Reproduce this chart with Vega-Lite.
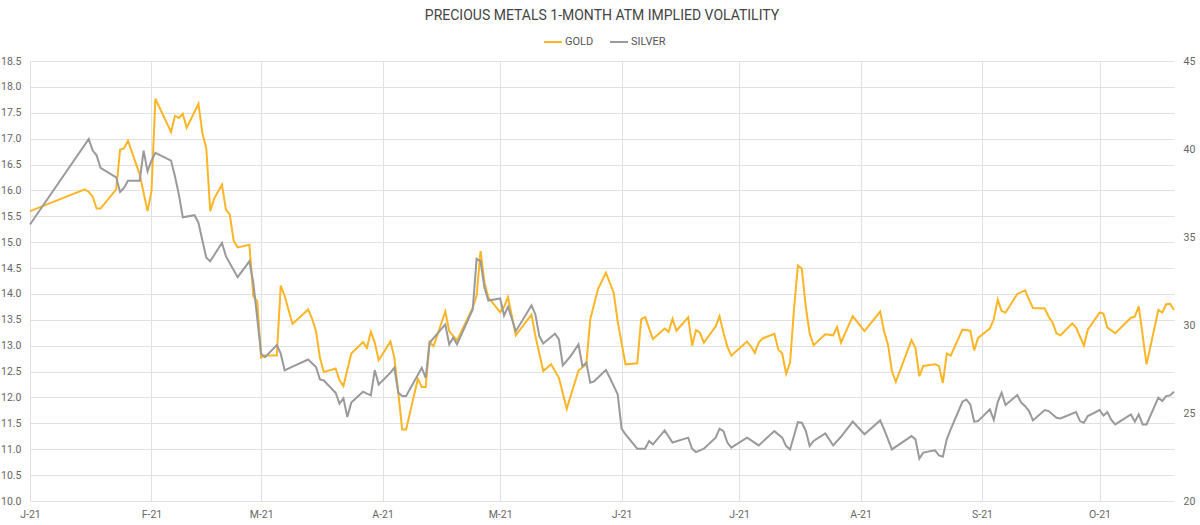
{
  "$schema": "https://vega.github.io/schema/vega-lite/v6.json",
  "autosize": {"type": "none"},
  "padding": {"left": 30, "top": 61, "right": 26, "bottom": 24},
  "width": 1144,
  "height": 440,
  "background": "#ffffff",
  "title": {
    "text": "PRECIOUS METALS 1-MONTH ATM IMPLIED VOLATILITY",
    "font": "Roboto",
    "fontSize": 14,
    "fontWeight": "normal",
    "color": "#444444",
    "anchor": "middle",
    "baseline": "alphabetic",
    "offset": 11,
    "dy": 13
  },
  "datasets": {
    "vols": [
      {"date": "2021-01-01", "metal": "GOLD", "vol": 15.60},
      {"date": "2021-01-15", "metal": "GOLD", "vol": 16.02},
      {"date": "2021-01-16", "metal": "GOLD", "vol": 15.97},
      {"date": "2021-01-17", "metal": "GOLD", "vol": 15.88},
      {"date": "2021-01-18", "metal": "GOLD", "vol": 15.65},
      {"date": "2021-01-19", "metal": "GOLD", "vol": 15.65},
      {"date": "2021-01-23", "metal": "GOLD", "vol": 16.02},
      {"date": "2021-01-24", "metal": "GOLD", "vol": 16.79},
      {"date": "2021-01-25", "metal": "GOLD", "vol": 16.81},
      {"date": "2021-01-26", "metal": "GOLD", "vol": 16.96},
      {"date": "2021-01-29", "metal": "GOLD", "vol": 16.31},
      {"date": "2021-01-31", "metal": "GOLD", "vol": 15.60},
      {"date": "2021-02-01", "metal": "GOLD", "vol": 15.98},
      {"date": "2021-02-02", "metal": "GOLD", "vol": 17.77},
      {"date": "2021-02-06", "metal": "GOLD", "vol": 17.13},
      {"date": "2021-02-07", "metal": "GOLD", "vol": 17.44},
      {"date": "2021-02-08", "metal": "GOLD", "vol": 17.40},
      {"date": "2021-02-09", "metal": "GOLD", "vol": 17.48},
      {"date": "2021-02-10", "metal": "GOLD", "vol": 17.21},
      {"date": "2021-02-13", "metal": "GOLD", "vol": 17.67},
      {"date": "2021-02-14", "metal": "GOLD", "vol": 17.11},
      {"date": "2021-02-15", "metal": "GOLD", "vol": 16.81},
      {"date": "2021-02-16", "metal": "GOLD", "vol": 15.60},
      {"date": "2021-02-17", "metal": "GOLD", "vol": 15.84},
      {"date": "2021-02-19", "metal": "GOLD", "vol": 16.11},
      {"date": "2021-02-20", "metal": "GOLD", "vol": 15.63},
      {"date": "2021-02-21", "metal": "GOLD", "vol": 15.53},
      {"date": "2021-02-22", "metal": "GOLD", "vol": 15.02},
      {"date": "2021-02-23", "metal": "GOLD", "vol": 14.90},
      {"date": "2021-02-26", "metal": "GOLD", "vol": 14.95},
      {"date": "2021-02-27", "metal": "GOLD", "vol": 13.96},
      {"date": "2021-02-28", "metal": "GOLD", "vol": 13.86},
      {"date": "2021-03-01", "metal": "GOLD", "vol": 12.77},
      {"date": "2021-03-02", "metal": "GOLD", "vol": 12.81},
      {"date": "2021-03-05", "metal": "GOLD", "vol": 12.81},
      {"date": "2021-03-06", "metal": "GOLD", "vol": 14.16},
      {"date": "2021-03-07", "metal": "GOLD", "vol": 13.96},
      {"date": "2021-03-09", "metal": "GOLD", "vol": 13.42},
      {"date": "2021-03-13", "metal": "GOLD", "vol": 13.70},
      {"date": "2021-03-14", "metal": "GOLD", "vol": 13.52},
      {"date": "2021-03-15", "metal": "GOLD", "vol": 13.28},
      {"date": "2021-03-16", "metal": "GOLD", "vol": 12.77},
      {"date": "2021-03-17", "metal": "GOLD", "vol": 12.49},
      {"date": "2021-03-20", "metal": "GOLD", "vol": 12.56},
      {"date": "2021-03-21", "metal": "GOLD", "vol": 12.33},
      {"date": "2021-03-22", "metal": "GOLD", "vol": 12.22},
      {"date": "2021-03-24", "metal": "GOLD", "vol": 12.85},
      {"date": "2021-03-27", "metal": "GOLD", "vol": 13.07},
      {"date": "2021-03-28", "metal": "GOLD", "vol": 12.96},
      {"date": "2021-03-29", "metal": "GOLD", "vol": 13.27},
      {"date": "2021-03-30", "metal": "GOLD", "vol": 13.06},
      {"date": "2021-03-31", "metal": "GOLD", "vol": 12.72},
      {"date": "2021-04-03", "metal": "GOLD", "vol": 13.08},
      {"date": "2021-04-04", "metal": "GOLD", "vol": 12.77},
      {"date": "2021-04-05", "metal": "GOLD", "vol": 12.10},
      {"date": "2021-04-06", "metal": "GOLD", "vol": 11.38},
      {"date": "2021-04-07", "metal": "GOLD", "vol": 11.38},
      {"date": "2021-04-10", "metal": "GOLD", "vol": 12.36},
      {"date": "2021-04-11", "metal": "GOLD", "vol": 12.20},
      {"date": "2021-04-12", "metal": "GOLD", "vol": 12.20},
      {"date": "2021-04-13", "metal": "GOLD", "vol": 13.07},
      {"date": "2021-04-14", "metal": "GOLD", "vol": 12.99},
      {"date": "2021-04-17", "metal": "GOLD", "vol": 13.66},
      {"date": "2021-04-18", "metal": "GOLD", "vol": 13.28},
      {"date": "2021-04-20", "metal": "GOLD", "vol": 13.10},
      {"date": "2021-04-24", "metal": "GOLD", "vol": 13.73},
      {"date": "2021-04-25", "metal": "GOLD", "vol": 13.97},
      {"date": "2021-04-26", "metal": "GOLD", "vol": 14.83},
      {"date": "2021-04-27", "metal": "GOLD", "vol": 14.22},
      {"date": "2021-04-28", "metal": "GOLD", "vol": 13.93},
      {"date": "2021-05-01", "metal": "GOLD", "vol": 13.65},
      {"date": "2021-05-02", "metal": "GOLD", "vol": 13.75},
      {"date": "2021-05-03", "metal": "GOLD", "vol": 13.94},
      {"date": "2021-05-05", "metal": "GOLD", "vol": 13.20},
      {"date": "2021-05-09", "metal": "GOLD", "vol": 13.60},
      {"date": "2021-05-10", "metal": "GOLD", "vol": 13.19},
      {"date": "2021-05-12", "metal": "GOLD", "vol": 12.51},
      {"date": "2021-05-14", "metal": "GOLD", "vol": 12.64},
      {"date": "2021-05-16", "metal": "GOLD", "vol": 12.38},
      {"date": "2021-05-18", "metal": "GOLD", "vol": 11.78},
      {"date": "2021-05-21", "metal": "GOLD", "vol": 12.52},
      {"date": "2021-05-23", "metal": "GOLD", "vol": 12.64},
      {"date": "2021-05-24", "metal": "GOLD", "vol": 13.51},
      {"date": "2021-05-26", "metal": "GOLD", "vol": 14.10},
      {"date": "2021-05-28", "metal": "GOLD", "vol": 14.41},
      {"date": "2021-05-30", "metal": "GOLD", "vol": 14.02},
      {"date": "2021-05-31", "metal": "GOLD", "vol": 13.47},
      {"date": "2021-06-02", "metal": "GOLD", "vol": 12.64},
      {"date": "2021-06-05", "metal": "GOLD", "vol": 12.66},
      {"date": "2021-06-06", "metal": "GOLD", "vol": 13.51},
      {"date": "2021-06-07", "metal": "GOLD", "vol": 13.55},
      {"date": "2021-06-09", "metal": "GOLD", "vol": 13.13},
      {"date": "2021-06-12", "metal": "GOLD", "vol": 13.33},
      {"date": "2021-06-13", "metal": "GOLD", "vol": 13.27},
      {"date": "2021-06-14", "metal": "GOLD", "vol": 13.52},
      {"date": "2021-06-15", "metal": "GOLD", "vol": 13.29},
      {"date": "2021-06-18", "metal": "GOLD", "vol": 13.55},
      {"date": "2021-06-19", "metal": "GOLD", "vol": 13.00},
      {"date": "2021-06-20", "metal": "GOLD", "vol": 13.30},
      {"date": "2021-06-21", "metal": "GOLD", "vol": 13.25},
      {"date": "2021-06-22", "metal": "GOLD", "vol": 13.06},
      {"date": "2021-06-25", "metal": "GOLD", "vol": 13.37},
      {"date": "2021-06-26", "metal": "GOLD", "vol": 13.57},
      {"date": "2021-06-27", "metal": "GOLD", "vol": 13.25},
      {"date": "2021-06-28", "metal": "GOLD", "vol": 12.98},
      {"date": "2021-06-29", "metal": "GOLD", "vol": 12.81},
      {"date": "2021-07-03", "metal": "GOLD", "vol": 13.08},
      {"date": "2021-07-04", "metal": "GOLD", "vol": 12.99},
      {"date": "2021-07-05", "metal": "GOLD", "vol": 12.86},
      {"date": "2021-07-06", "metal": "GOLD", "vol": 13.06},
      {"date": "2021-07-07", "metal": "GOLD", "vol": 13.14},
      {"date": "2021-07-10", "metal": "GOLD", "vol": 13.23},
      {"date": "2021-07-11", "metal": "GOLD", "vol": 12.93},
      {"date": "2021-07-12", "metal": "GOLD", "vol": 12.85},
      {"date": "2021-07-13", "metal": "GOLD", "vol": 12.46},
      {"date": "2021-07-14", "metal": "GOLD", "vol": 12.67},
      {"date": "2021-07-15", "metal": "GOLD", "vol": 13.70},
      {"date": "2021-07-16", "metal": "GOLD", "vol": 14.55},
      {"date": "2021-07-17", "metal": "GOLD", "vol": 14.49},
      {"date": "2021-07-18", "metal": "GOLD", "vol": 13.76},
      {"date": "2021-07-19", "metal": "GOLD", "vol": 13.24},
      {"date": "2021-07-20", "metal": "GOLD", "vol": 13.01},
      {"date": "2021-07-23", "metal": "GOLD", "vol": 13.22},
      {"date": "2021-07-25", "metal": "GOLD", "vol": 13.20},
      {"date": "2021-07-26", "metal": "GOLD", "vol": 13.36},
      {"date": "2021-07-27", "metal": "GOLD", "vol": 13.06},
      {"date": "2021-07-30", "metal": "GOLD", "vol": 13.57},
      {"date": "2021-08-02", "metal": "GOLD", "vol": 13.28},
      {"date": "2021-08-06", "metal": "GOLD", "vol": 13.66},
      {"date": "2021-08-07", "metal": "GOLD", "vol": 13.28},
      {"date": "2021-08-08", "metal": "GOLD", "vol": 13.02},
      {"date": "2021-08-09", "metal": "GOLD", "vol": 12.51},
      {"date": "2021-08-10", "metal": "GOLD", "vol": 12.30},
      {"date": "2021-08-14", "metal": "GOLD", "vol": 13.11},
      {"date": "2021-08-15", "metal": "GOLD", "vol": 12.96},
      {"date": "2021-08-16", "metal": "GOLD", "vol": 12.41},
      {"date": "2021-08-17", "metal": "GOLD", "vol": 12.61},
      {"date": "2021-08-20", "metal": "GOLD", "vol": 12.64},
      {"date": "2021-08-21", "metal": "GOLD", "vol": 12.61},
      {"date": "2021-08-22", "metal": "GOLD", "vol": 12.28},
      {"date": "2021-08-23", "metal": "GOLD", "vol": 12.85},
      {"date": "2021-08-24", "metal": "GOLD", "vol": 12.81},
      {"date": "2021-08-27", "metal": "GOLD", "vol": 13.31},
      {"date": "2021-08-29", "metal": "GOLD", "vol": 13.29},
      {"date": "2021-08-30", "metal": "GOLD", "vol": 12.91},
      {"date": "2021-08-31", "metal": "GOLD", "vol": 13.15},
      {"date": "2021-09-03", "metal": "GOLD", "vol": 13.33},
      {"date": "2021-09-04", "metal": "GOLD", "vol": 13.51},
      {"date": "2021-09-05", "metal": "GOLD", "vol": 13.89},
      {"date": "2021-09-06", "metal": "GOLD", "vol": 13.67},
      {"date": "2021-09-07", "metal": "GOLD", "vol": 13.64},
      {"date": "2021-09-10", "metal": "GOLD", "vol": 14.00},
      {"date": "2021-09-12", "metal": "GOLD", "vol": 14.07},
      {"date": "2021-09-13", "metal": "GOLD", "vol": 13.89},
      {"date": "2021-09-14", "metal": "GOLD", "vol": 13.73},
      {"date": "2021-09-17", "metal": "GOLD", "vol": 13.72},
      {"date": "2021-09-18", "metal": "GOLD", "vol": 13.56},
      {"date": "2021-09-19", "metal": "GOLD", "vol": 13.45},
      {"date": "2021-09-20", "metal": "GOLD", "vol": 13.24},
      {"date": "2021-09-21", "metal": "GOLD", "vol": 13.20},
      {"date": "2021-09-24", "metal": "GOLD", "vol": 13.43},
      {"date": "2021-09-25", "metal": "GOLD", "vol": 13.35},
      {"date": "2021-09-27", "metal": "GOLD", "vol": 13.00},
      {"date": "2021-09-28", "metal": "GOLD", "vol": 13.31},
      {"date": "2021-10-01", "metal": "GOLD", "vol": 13.64},
      {"date": "2021-10-02", "metal": "GOLD", "vol": 13.62},
      {"date": "2021-10-03", "metal": "GOLD", "vol": 13.35},
      {"date": "2021-10-05", "metal": "GOLD", "vol": 13.24},
      {"date": "2021-10-09", "metal": "GOLD", "vol": 13.54},
      {"date": "2021-10-10", "metal": "GOLD", "vol": 13.56},
      {"date": "2021-10-11", "metal": "GOLD", "vol": 13.76},
      {"date": "2021-10-13", "metal": "GOLD", "vol": 12.64},
      {"date": "2021-10-16", "metal": "GOLD", "vol": 13.69},
      {"date": "2021-10-17", "metal": "GOLD", "vol": 13.64},
      {"date": "2021-10-18", "metal": "GOLD", "vol": 13.80},
      {"date": "2021-10-19", "metal": "GOLD", "vol": 13.81},
      {"date": "2021-10-20", "metal": "GOLD", "vol": 13.69},

      {"date": "2021-01-01", "metal": "SILVER", "vol": 35.71},
      {"date": "2021-01-16", "metal": "SILVER", "vol": 40.57},
      {"date": "2021-01-17", "metal": "SILVER", "vol": 39.91},
      {"date": "2021-01-18", "metal": "SILVER", "vol": 39.64},
      {"date": "2021-01-19", "metal": "SILVER", "vol": 38.93},
      {"date": "2021-01-23", "metal": "SILVER", "vol": 38.39},
      {"date": "2021-01-24", "metal": "SILVER", "vol": 37.56},
      {"date": "2021-01-25", "metal": "SILVER", "vol": 37.79},
      {"date": "2021-01-26", "metal": "SILVER", "vol": 38.20},
      {"date": "2021-01-29", "metal": "SILVER", "vol": 38.20},
      {"date": "2021-01-30", "metal": "SILVER", "vol": 39.91},
      {"date": "2021-01-31", "metal": "SILVER", "vol": 38.73},
      {"date": "2021-02-01", "metal": "SILVER", "vol": 39.34},
      {"date": "2021-02-02", "metal": "SILVER", "vol": 39.78},
      {"date": "2021-02-06", "metal": "SILVER", "vol": 39.34},
      {"date": "2021-02-07", "metal": "SILVER", "vol": 38.45},
      {"date": "2021-02-08", "metal": "SILVER", "vol": 37.41},
      {"date": "2021-02-09", "metal": "SILVER", "vol": 36.12},
      {"date": "2021-02-12", "metal": "SILVER", "vol": 36.24},
      {"date": "2021-02-13", "metal": "SILVER", "vol": 35.80},
      {"date": "2021-02-15", "metal": "SILVER", "vol": 33.82},
      {"date": "2021-02-16", "metal": "SILVER", "vol": 33.62},
      {"date": "2021-02-19", "metal": "SILVER", "vol": 34.67},
      {"date": "2021-02-20", "metal": "SILVER", "vol": 33.91},
      {"date": "2021-02-23", "metal": "SILVER", "vol": 32.72},
      {"date": "2021-02-26", "metal": "SILVER", "vol": 33.62},
      {"date": "2021-02-27", "metal": "SILVER", "vol": 32.40},
      {"date": "2021-03-01", "metal": "SILVER", "vol": 28.37},
      {"date": "2021-03-02", "metal": "SILVER", "vol": 28.17},
      {"date": "2021-03-05", "metal": "SILVER", "vol": 28.86},
      {"date": "2021-03-06", "metal": "SILVER", "vol": 28.37},
      {"date": "2021-03-07", "metal": "SILVER", "vol": 27.42},
      {"date": "2021-03-09", "metal": "SILVER", "vol": 27.63},
      {"date": "2021-03-13", "metal": "SILVER", "vol": 28.04},
      {"date": "2021-03-15", "metal": "SILVER", "vol": 27.61},
      {"date": "2021-03-16", "metal": "SILVER", "vol": 26.91},
      {"date": "2021-03-17", "metal": "SILVER", "vol": 26.85},
      {"date": "2021-03-20", "metal": "SILVER", "vol": 26.15},
      {"date": "2021-03-21", "metal": "SILVER", "vol": 25.53},
      {"date": "2021-03-22", "metal": "SILVER", "vol": 25.83},
      {"date": "2021-03-23", "metal": "SILVER", "vol": 24.77},
      {"date": "2021-03-24", "metal": "SILVER", "vol": 25.59},
      {"date": "2021-03-27", "metal": "SILVER", "vol": 26.21},
      {"date": "2021-03-28", "metal": "SILVER", "vol": 26.10},
      {"date": "2021-03-29", "metal": "SILVER", "vol": 26.00},
      {"date": "2021-03-30", "metal": "SILVER", "vol": 27.44},
      {"date": "2021-03-31", "metal": "SILVER", "vol": 26.62},
      {"date": "2021-04-03", "metal": "SILVER", "vol": 27.29},
      {"date": "2021-04-04", "metal": "SILVER", "vol": 27.57},
      {"date": "2021-04-05", "metal": "SILVER", "vol": 26.15},
      {"date": "2021-04-06", "metal": "SILVER", "vol": 25.96},
      {"date": "2021-04-07", "metal": "SILVER", "vol": 25.96},
      {"date": "2021-04-11", "metal": "SILVER", "vol": 27.57},
      {"date": "2021-04-12", "metal": "SILVER", "vol": 27.00},
      {"date": "2021-04-13", "metal": "SILVER", "vol": 28.99},
      {"date": "2021-04-17", "metal": "SILVER", "vol": 30.03},
      {"date": "2021-04-18", "metal": "SILVER", "vol": 28.90},
      {"date": "2021-04-19", "metal": "SILVER", "vol": 29.28},
      {"date": "2021-04-20", "metal": "SILVER", "vol": 28.90},
      {"date": "2021-04-24", "metal": "SILVER", "vol": 30.88},
      {"date": "2021-04-25", "metal": "SILVER", "vol": 33.76},
      {"date": "2021-04-26", "metal": "SILVER", "vol": 33.62},
      {"date": "2021-04-27", "metal": "SILVER", "vol": 32.11},
      {"date": "2021-04-28", "metal": "SILVER", "vol": 31.39},
      {"date": "2021-05-01", "metal": "SILVER", "vol": 31.51},
      {"date": "2021-05-02", "metal": "SILVER", "vol": 30.54},
      {"date": "2021-05-03", "metal": "SILVER", "vol": 31.04},
      {"date": "2021-05-05", "metal": "SILVER", "vol": 29.65},
      {"date": "2021-05-09", "metal": "SILVER", "vol": 31.11},
      {"date": "2021-05-10", "metal": "SILVER", "vol": 30.60},
      {"date": "2021-05-11", "metal": "SILVER", "vol": 29.37},
      {"date": "2021-05-12", "metal": "SILVER", "vol": 28.95},
      {"date": "2021-05-15", "metal": "SILVER", "vol": 29.50},
      {"date": "2021-05-16", "metal": "SILVER", "vol": 29.18},
      {"date": "2021-05-17", "metal": "SILVER", "vol": 27.70},
      {"date": "2021-05-19", "metal": "SILVER", "vol": 28.23},
      {"date": "2021-05-21", "metal": "SILVER", "vol": 28.90},
      {"date": "2021-05-22", "metal": "SILVER", "vol": 27.66},
      {"date": "2021-05-23", "metal": "SILVER", "vol": 27.86},
      {"date": "2021-05-24", "metal": "SILVER", "vol": 26.72},
      {"date": "2021-05-25", "metal": "SILVER", "vol": 26.80},
      {"date": "2021-05-28", "metal": "SILVER", "vol": 27.45},
      {"date": "2021-05-29", "metal": "SILVER", "vol": 27.00},
      {"date": "2021-05-31", "metal": "SILVER", "vol": 26.06},
      {"date": "2021-06-01", "metal": "SILVER", "vol": 24.11},
      {"date": "2021-06-02", "metal": "SILVER", "vol": 23.79},
      {"date": "2021-06-05", "metal": "SILVER", "vol": 22.97},
      {"date": "2021-06-07", "metal": "SILVER", "vol": 22.97},
      {"date": "2021-06-08", "metal": "SILVER", "vol": 23.41},
      {"date": "2021-06-09", "metal": "SILVER", "vol": 23.22},
      {"date": "2021-06-12", "metal": "SILVER", "vol": 24.01},
      {"date": "2021-06-14", "metal": "SILVER", "vol": 23.32},
      {"date": "2021-06-18", "metal": "SILVER", "vol": 23.60},
      {"date": "2021-06-19", "metal": "SILVER", "vol": 22.97},
      {"date": "2021-06-20", "metal": "SILVER", "vol": 22.78},
      {"date": "2021-06-22", "metal": "SILVER", "vol": 22.97},
      {"date": "2021-06-25", "metal": "SILVER", "vol": 23.60},
      {"date": "2021-06-26", "metal": "SILVER", "vol": 24.11},
      {"date": "2021-06-27", "metal": "SILVER", "vol": 23.97},
      {"date": "2021-06-28", "metal": "SILVER", "vol": 23.32},
      {"date": "2021-06-29", "metal": "SILVER", "vol": 23.03},
      {"date": "2021-07-03", "metal": "SILVER", "vol": 23.60},
      {"date": "2021-07-04", "metal": "SILVER", "vol": 23.46},
      {"date": "2021-07-06", "metal": "SILVER", "vol": 23.16},
      {"date": "2021-07-10", "metal": "SILVER", "vol": 23.97},
      {"date": "2021-07-12", "metal": "SILVER", "vol": 23.60},
      {"date": "2021-07-13", "metal": "SILVER", "vol": 23.12},
      {"date": "2021-07-14", "metal": "SILVER", "vol": 22.93},
      {"date": "2021-07-16", "metal": "SILVER", "vol": 24.48},
      {"date": "2021-07-17", "metal": "SILVER", "vol": 24.45},
      {"date": "2021-07-18", "metal": "SILVER", "vol": 24.01},
      {"date": "2021-07-19", "metal": "SILVER", "vol": 23.12},
      {"date": "2021-07-20", "metal": "SILVER", "vol": 23.41},
      {"date": "2021-07-23", "metal": "SILVER", "vol": 23.84},
      {"date": "2021-07-25", "metal": "SILVER", "vol": 23.16},
      {"date": "2021-07-27", "metal": "SILVER", "vol": 23.65},
      {"date": "2021-07-30", "metal": "SILVER", "vol": 24.51},
      {"date": "2021-08-02", "metal": "SILVER", "vol": 23.79},
      {"date": "2021-08-06", "metal": "SILVER", "vol": 24.58},
      {"date": "2021-08-07", "metal": "SILVER", "vol": 24.07},
      {"date": "2021-08-09", "metal": "SILVER", "vol": 22.93},
      {"date": "2021-08-14", "metal": "SILVER", "vol": 23.69},
      {"date": "2021-08-15", "metal": "SILVER", "vol": 23.50},
      {"date": "2021-08-16", "metal": "SILVER", "vol": 22.41},
      {"date": "2021-08-17", "metal": "SILVER", "vol": 22.75},
      {"date": "2021-08-20", "metal": "SILVER", "vol": 22.88},
      {"date": "2021-08-21", "metal": "SILVER", "vol": 22.59},
      {"date": "2021-08-22", "metal": "SILVER", "vol": 22.52},
      {"date": "2021-08-23", "metal": "SILVER", "vol": 23.50},
      {"date": "2021-08-24", "metal": "SILVER", "vol": 24.07},
      {"date": "2021-08-27", "metal": "SILVER", "vol": 25.64},
      {"date": "2021-08-28", "metal": "SILVER", "vol": 25.77},
      {"date": "2021-08-29", "metal": "SILVER", "vol": 25.49},
      {"date": "2021-08-30", "metal": "SILVER", "vol": 24.51},
      {"date": "2021-08-31", "metal": "SILVER", "vol": 24.54},
      {"date": "2021-09-03", "metal": "SILVER", "vol": 25.21},
      {"date": "2021-09-04", "metal": "SILVER", "vol": 24.60},
      {"date": "2021-09-05", "metal": "SILVER", "vol": 25.62},
      {"date": "2021-09-06", "metal": "SILVER", "vol": 26.15},
      {"date": "2021-09-07", "metal": "SILVER", "vol": 25.45},
      {"date": "2021-09-10", "metal": "SILVER", "vol": 26.02},
      {"date": "2021-09-11", "metal": "SILVER", "vol": 25.59},
      {"date": "2021-09-12", "metal": "SILVER", "vol": 25.39},
      {"date": "2021-09-13", "metal": "SILVER", "vol": 25.11},
      {"date": "2021-09-14", "metal": "SILVER", "vol": 24.58},
      {"date": "2021-09-17", "metal": "SILVER", "vol": 25.17},
      {"date": "2021-09-18", "metal": "SILVER", "vol": 25.11},
      {"date": "2021-09-20", "metal": "SILVER", "vol": 24.73},
      {"date": "2021-09-21", "metal": "SILVER", "vol": 24.69},
      {"date": "2021-09-25", "metal": "SILVER", "vol": 25.05},
      {"date": "2021-09-26", "metal": "SILVER", "vol": 24.54},
      {"date": "2021-09-27", "metal": "SILVER", "vol": 24.45},
      {"date": "2021-09-28", "metal": "SILVER", "vol": 24.83},
      {"date": "2021-10-01", "metal": "SILVER", "vol": 25.17},
      {"date": "2021-10-02", "metal": "SILVER", "vol": 24.86},
      {"date": "2021-10-03", "metal": "SILVER", "vol": 25.05},
      {"date": "2021-10-04", "metal": "SILVER", "vol": 24.60},
      {"date": "2021-10-05", "metal": "SILVER", "vol": 24.35},
      {"date": "2021-10-09", "metal": "SILVER", "vol": 24.92},
      {"date": "2021-10-10", "metal": "SILVER", "vol": 24.51},
      {"date": "2021-10-11", "metal": "SILVER", "vol": 24.92},
      {"date": "2021-10-12", "metal": "SILVER", "vol": 24.35},
      {"date": "2021-10-13", "metal": "SILVER", "vol": 24.35},
      {"date": "2021-10-16", "metal": "SILVER", "vol": 25.87},
      {"date": "2021-10-17", "metal": "SILVER", "vol": 25.68},
      {"date": "2021-10-18", "metal": "SILVER", "vol": 25.96},
      {"date": "2021-10-19", "metal": "SILVER", "vol": 26.00},
      {"date": "2021-10-20", "metal": "SILVER", "vol": 26.21}
    ]
  },
  "data": {"name": "vols", "format": {"parse": {"date": "date:'%Y-%m-%d'"}}},
  "encoding": {
    "x": {
      "field": "date",
      "type": "temporal",
      "scale": {
        "domain": [
          {"year": 2021, "month": 1, "date": 1},
          {"year": 2021, "month": 10, "date": 20}
        ],
        "nice": false
      },
      "axis": {
        "title": null,
        "values": [
          {"year": 2021, "month": 1, "date": 1},
          {"year": 2021, "month": 2, "date": 1},
          {"year": 2021, "month": 3, "date": 1},
          {"year": 2021, "month": 4, "date": 1},
          {"year": 2021, "month": 5, "date": 1},
          {"year": 2021, "month": 6, "date": 1},
          {"year": 2021, "month": 7, "date": 1},
          {"year": 2021, "month": 8, "date": 1},
          {"year": 2021, "month": 9, "date": 1},
          {"year": 2021, "month": 10, "date": 1}
        ],
        "labelExpr": "substring(timeFormat(datum.value, '%b'), 0, 1) + '-' + timeFormat(datum.value, '%y')",
        "grid": true,
        "gridColor": "#e1e1e1",
        "gridWidth": 1,
        "domain": false,
        "ticks": false,
        "labelPadding": 8,
        "labelFont": "Roboto",
        "labelFontSize": 10.5,
        "labelColor": "#666666",
        "labelFlush": false
      }
    },
    "color": {
      "field": "metal",
      "type": "nominal",
      "scale": {"domain": ["GOLD", "SILVER"], "range": ["#fbb526", "#9a9a9a"]},
      "legend": {
        "title": null,
        "orient": "none",
        "legendX": 513,
        "legendY": -29,
        "direction": "horizontal",
        "symbolType": "stroke",
        "symbolSize": 324,
        "symbolStrokeWidth": 2,
        "labelFont": "Roboto",
        "labelFontSize": 11,
        "labelColor": "#555555",
        "labelOffset": 2,
        "columnPadding": 12
      }
    }
  },
  "layer": [
    {
      "transform": [{"filter": "datum.metal === 'GOLD'"}],
      "mark": {"type": "line", "strokeWidth": 2, "interpolate": "linear"},
      "encoding": {
        "y": {
          "field": "vol",
          "type": "quantitative",
          "scale": {"domain": [10, 18.5], "nice": false, "zero": false},
          "axis": {
            "title": null,
            "orient": "left",
            "values": [10, 10.5, 11, 11.5, 12, 12.5, 13, 13.5, 14, 14.5, 15, 15.5, 16, 16.5, 17, 17.5, 18, 18.5],
            "format": ".1f",
            "grid": true,
            "gridColor": "#e1e1e1",
            "gridWidth": 1,
            "domain": false,
            "ticks": false,
            "labelPadding": 9,
            "labelFont": "Roboto",
            "labelFontSize": 10.5,
            "labelColor": "#666666"
          }
        }
      }
    },
    {
      "transform": [{"filter": "datum.metal === 'SILVER'"}],
      "mark": {"type": "line", "strokeWidth": 2, "interpolate": "linear"},
      "encoding": {
        "y": {
          "field": "vol",
          "type": "quantitative",
          "scale": {"domain": [20, 45], "nice": false, "zero": false},
          "axis": {
            "title": null,
            "orient": "right",
            "values": [20, 25, 30, 35, 40, 45],
            "format": "d",
            "grid": false,
            "domain": false,
            "ticks": false,
            "labelPadding": 9,
            "labelFont": "Roboto",
            "labelFontSize": 10.5,
            "labelColor": "#666666"
          }
        }
      }
    }
  ],
  "resolve": {"scale": {"y": "independent"}},
  "config": {"view": {"stroke": null}}
}
